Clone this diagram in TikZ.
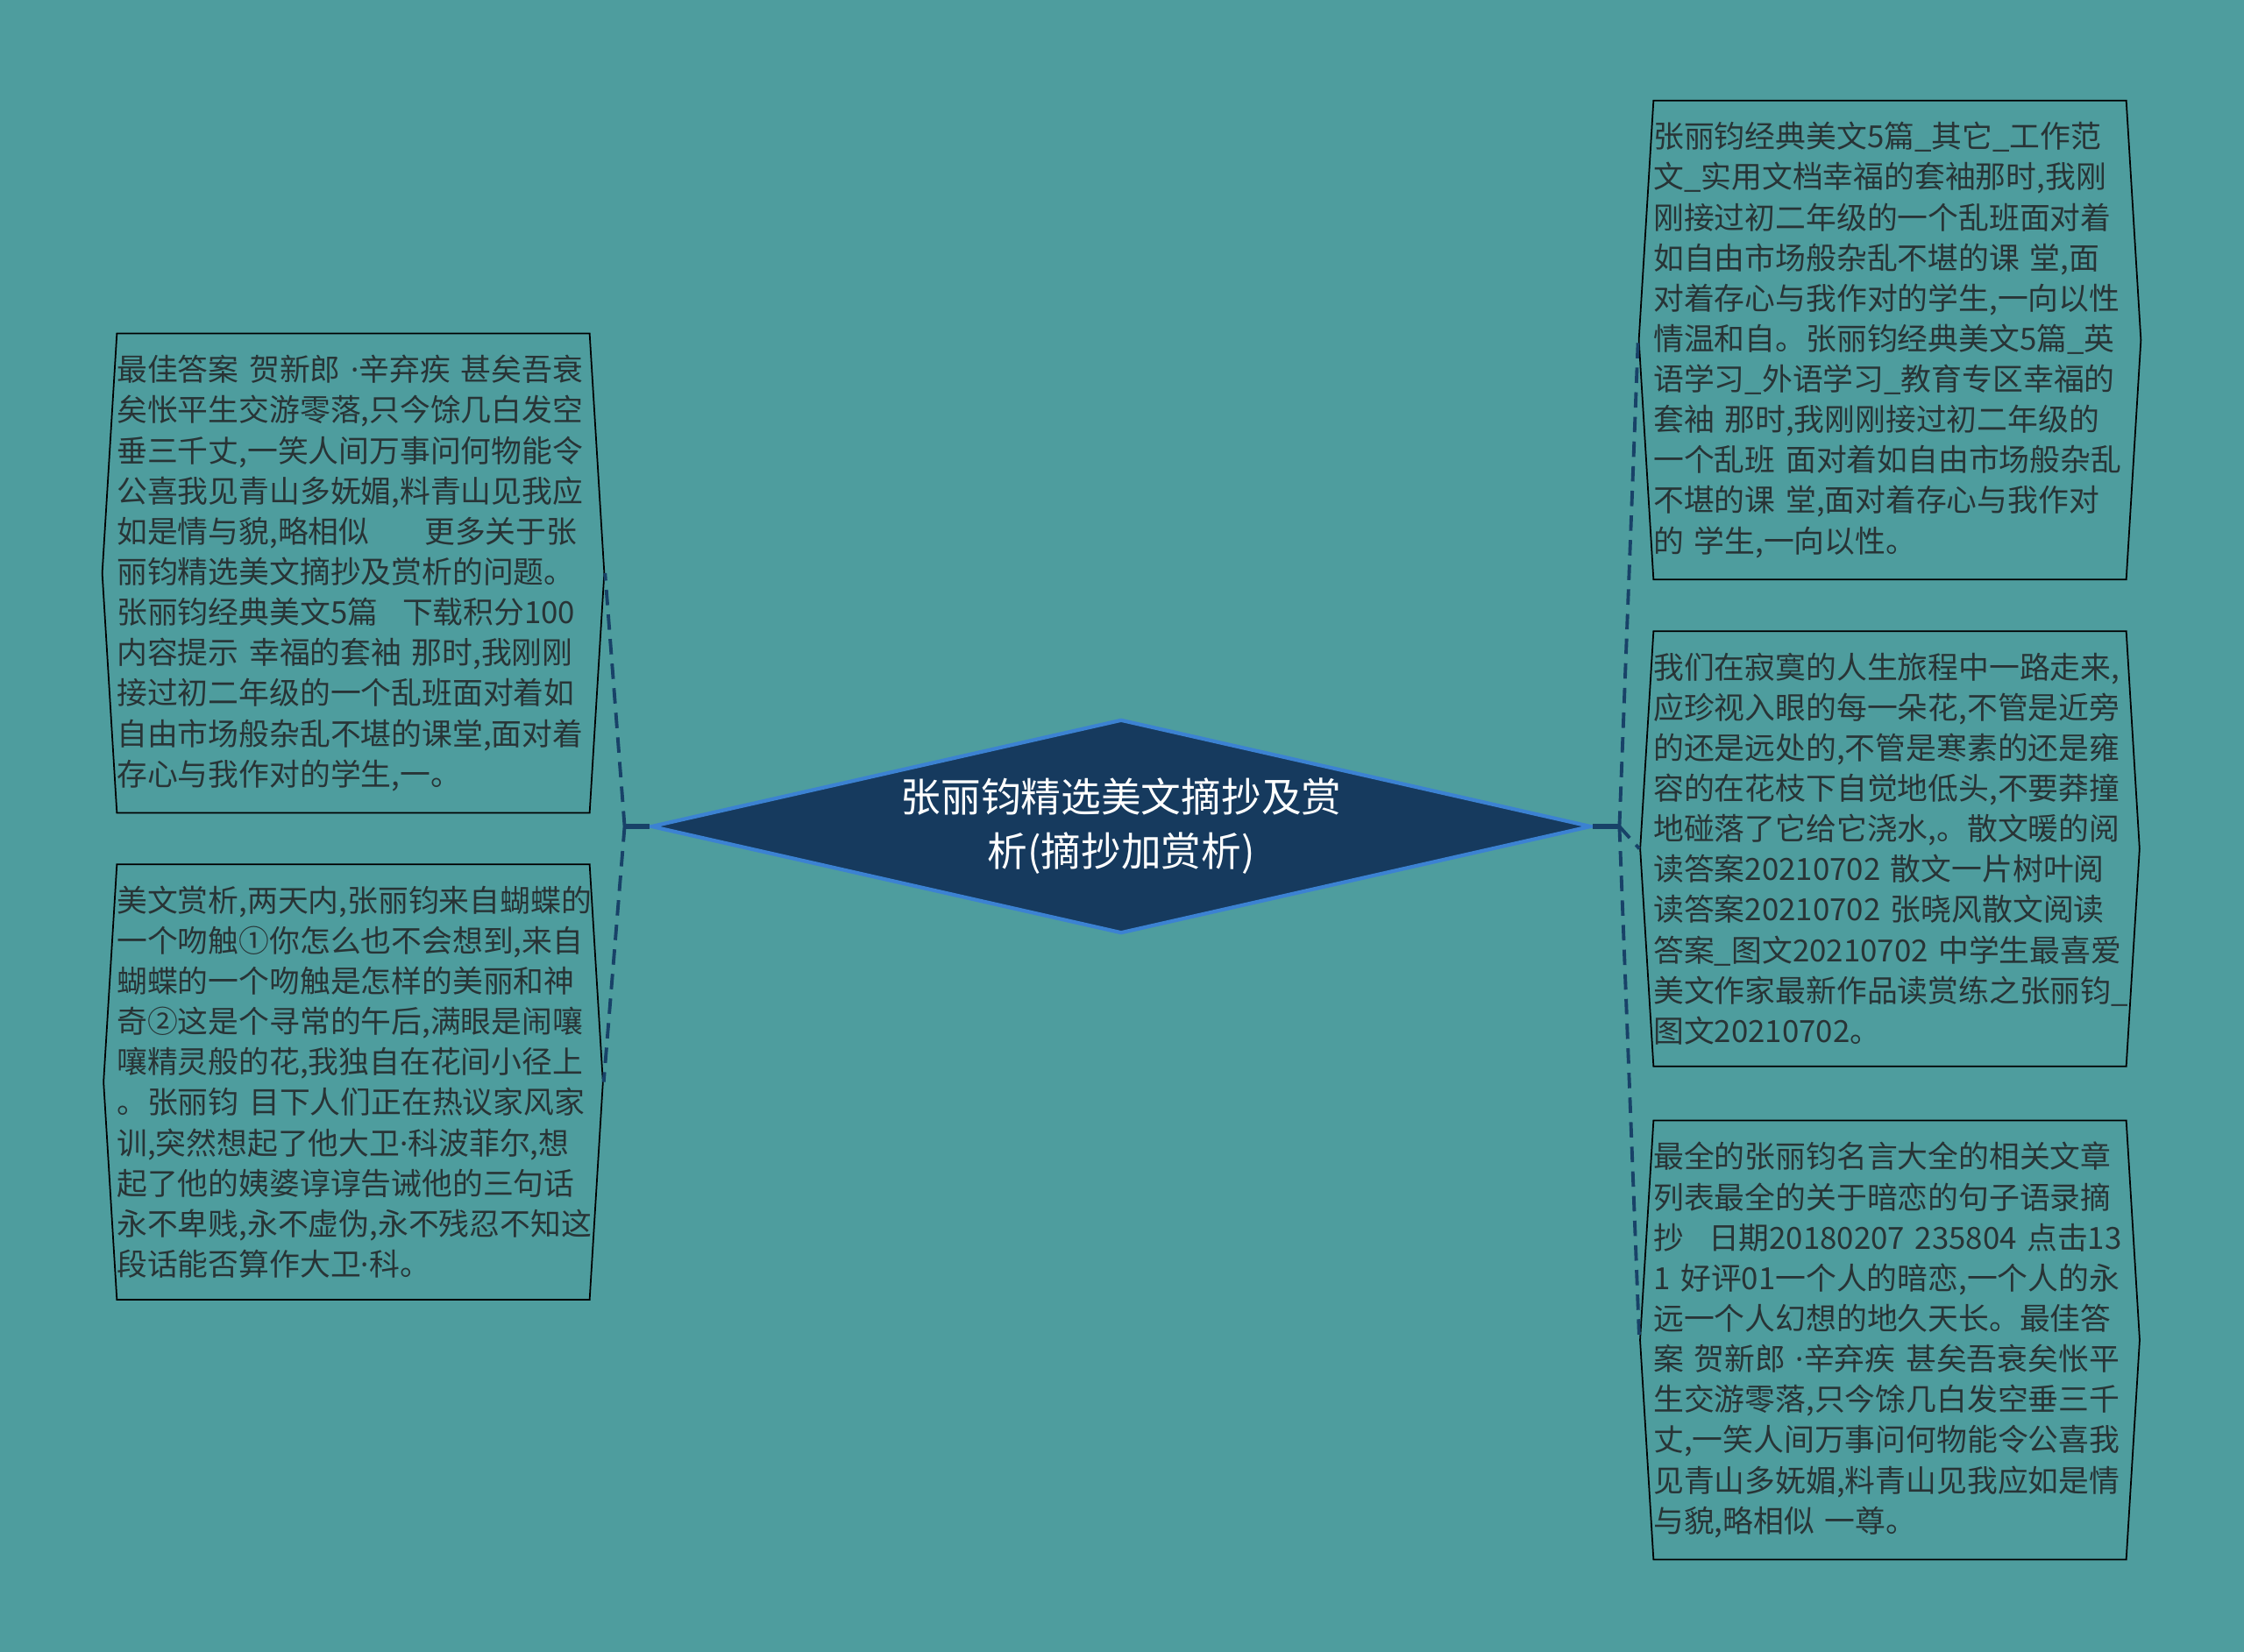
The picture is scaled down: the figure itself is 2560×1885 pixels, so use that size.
\documentclass[tikz,border=0pt]{standalone}
\usepackage{fontspec}
\newfontfamily\cjk{Noto Sans CJK SC}
\newfontfamily\latn{Noto Sans}
\usepackage{xcolor}
\usetikzlibrary{shapes.geometric,shapes.symbols,positioning}

\definecolor{bgteal}{RGB}{78,157,158}
\definecolor{rootfill}{RGB}{22,58,94}
\definecolor{rootline}{RGB}{60,130,210}
\definecolor{linkblue}{RGB}{24,66,104}
\definecolor{leaftext}{RGB}{40,52,54}
\newcommand{\mdot}{{\latn ·}}

\begin{document}
\begin{tikzpicture}[
    x=0.01cm, y=-0.01cm,
    root/.style={diamond, aspect=4.4, fill=rootfill, draw=rootline, line width=1.2pt, minimum width=10.72cm, minimum height=2.44cm, inner sep=0pt, text=white, align=center, font=\cjk\fontsize{13}{17.6}\selectfont},
    leaf/.style={signal, signal to=west and east, signal pointer angle=173, draw=black, line width=0.5pt, text=leaftext, align=left, text width=5.39cm, inner xsep=0pt, inner ysep=7pt, font=\cjk\fontsize{9.9}{13.12}\selectfont},
    stem/.style={linkblue, line width=1.5pt},
    link/.style={linkblue, line width=1.1pt, dash pattern=on 5pt off 3pt}
]
\fill[bgteal] (0,0) rectangle (2560,1885);
\useasboundingbox (0,0) rectangle (2560,1885);

\node[root] (root) at (1279,943) {张丽钧精选美文摘抄及赏\\析(摘抄加赏析)};

\node[leaf] (l1) at (403,654) {最佳答案~贺新郎~\mdot 辛弃疾~甚矣吾衰\\矣怅平生交游零落,只今馀几白发空\\垂三千丈,一笑人间万事问何物能令\\公喜我见青山多妩媚,料青山见我应\\如是情与貌,略相似\hspace{1.8em}更多关于张\\丽钧精选美文摘抄及赏析的问题。\\张丽钧经典美文5篇\hspace{0.8em}下载积分100\\内容提示~幸福的套袖~那时,我刚刚\\接过初二年级的一个乱班面对着如\\自由市场般杂乱不堪的课堂,面对着\\存心与我作对的学生,一。};
\node[leaf, below=0.57cm of l1] (l2) {美文赏析,两天内,张丽钧来自蝴蝶的\\一个吻触①你怎么也不会想到,来自\\蝴蝶的一个吻触是怎样的美丽和神\\奇②这是个寻常的午后,满眼是闹嚷\\嚷精灵般的花,我独自在花间小径上\\。张丽钧~目下人们正在热议家风家\\训,突然想起了他大卫\mdot 科波菲尔,想\\起了他的姨婆谆谆告诫他的三句话\\永不卑贱,永不虚伪,永不残忍不知这\\段话能否算作大卫\mdot 科。};

\node[leaf] (r1) at (2156,388) {张丽钧经典美文5篇\_其它\_工作范\\文\_实用文档幸福的套袖那时,我刚\\刚接过初二年级的一个乱班面对着\\如自由市场般杂乱不堪的课~堂,面\\对着存心与我作对的学生,一向以性\\情温和自。张丽钧经典美文5篇\_英\\语学习\_外语学习\_教育专区幸福的\\套袖~那时,我刚刚接过初二年级的\\一个乱班~面对着如自由市场般杂乱\\不堪的课~堂,面对着存心与我作对\\的~学生,一向以性。};
\node[leaf, below=0.57cm of r1] (r2) {我们在寂寞的人生旅程中一路走来,\\应珍视入眼的每一朵花,不管是近旁\\的还是远处的,不管是寒素的还是雍\\容的在花枝下自觉地低头,不要莽撞\\地碰落了它给它浇水,。散文暖的阅\\读答案20210702~散文一片树叶阅\\读答案20210702~张晓风散文阅读\\答案\_图文20210702~中学生最喜爱\\美文作家最新作品读赏练之张丽钧\_\\图文20210702。};
\node[leaf, below=0.6cm of r2] (r3) {最全的张丽钧名言大全的相关文章\\列表最全的关于暗恋的句子语录摘\\抄\hspace{0.8em}日期20180207~235804~点击13\\1~好评01一个人的暗恋,一个人的永\\远一个人幻想的地久天长。最佳答\\案~贺新郎~\mdot 辛弃疾~甚矣吾衰矣怅平\\生交游零落,只今馀几白发空垂三千\\丈,一笑人间万事问何物能令公喜我\\见青山多妩媚,料青山见我应如是情\\与貌,略相似~一尊。};

\coordinate (lj) at ([xshift=-0.28cm]root.west);
\coordinate (rj) at ([xshift=0.3cm]root.east);

\draw[stem] (root.west) -- (lj);
\draw[stem] (root.east) -- (rj);
\draw[link] (lj) -- (l1.east);
\draw[link] (lj) -- (l2.east);
\draw[link] (rj) -- (r1.west);
\draw[link] (rj) -- (r2.west);
\draw[link] (rj) -- (r3.west);
\end{tikzpicture}
\end{document}
